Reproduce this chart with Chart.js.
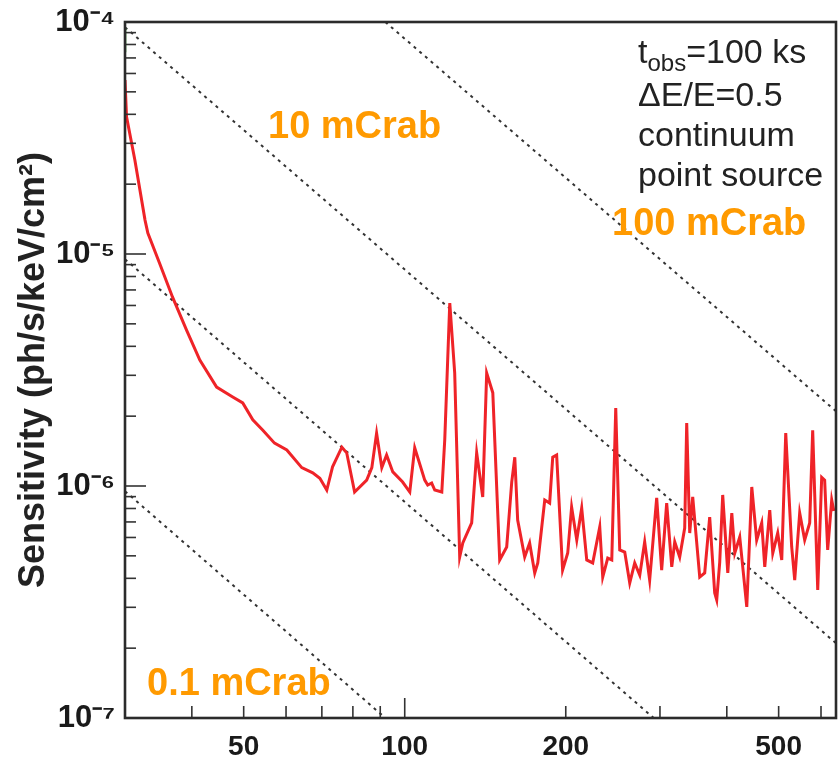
<!DOCTYPE html>
<html><head><meta charset="utf-8">
<script src="https://cdn.jsdelivr.net/npm/chart.js@4/dist/chart.umd.min.js"></script>
<style>html,body{margin:0;padding:0;background:#fff;}canvas{display:block;}</style>
</head><body>
<canvas id="c" width="839" height="758"></canvas>
<script>
// ---- data (energy in keV, sensitivity in ph/s/keV/cm2) ----
const energy = [30.0,30.2,31.3,32.7,33.1,34.8,36.8,39.1,41.4,44.5,47.7,49.8,52.0,54.3,57.1,60.2,64.2,67.3,69.4,71.5,
73.3,76.3,77.9,80.6,84.9,86.8,88.6,90.6,92.5,95.0,99.1,102.2,104.4,109.0,110.4,112.3,113.8,117.3,118.8,121.4,
124.0,126.7,128.4,133.4,136.3,139.9,142.3,146.1,150.5,155.1,158.5,160.6,162.6,167.6,171.2,175.0,177.3,182.7,186.6,189.1,
192.3,197.3,201.7,205.1,209.7,214.2,218.9,224.6,231.5,234.5,239.6,243.8,248.0,252.3,257.8,263.4,269.1,275.0,280.9,287.0,
295.8,302.2,308.8,315.6,319.7,326.6,333.7,336.6,341.0,345.4,356.0,363.7,371.6,379.7,383.0,388.0,393.0,401.7,408.7,414.0,
422.9,435.9,445.4,454.9,464.9,471.0,481.2,487.5,498.0,506.7,515.5,528.9,535.8,547.4,559.3,571.5,578.9,591.6,601.8,609.5,
617.5,628.3,634.0];
const sensitivity = [5.62e-5,3.90e-5,2.54e-5,1.40e-5,1.23e-5,9.15e-6,6.53e-6,4.70e-6,3.49e-6,2.67e-6,2.42e-6,2.28e-6,1.93e-6,1.74e-6,1.53e-6,1.43e-6,1.20e-6,1.14e-6,1.08e-6,9.61e-7,
1.21e-6,1.47e-6,1.39e-6,9.42e-7,1.06e-6,1.20e-6,1.69e-6,1.20e-6,1.36e-6,1.15e-6,1.04e-6,9.42e-7,1.46e-6,1.06e-6,1.01e-6,1.03e-6,9.61e-7,9.42e-7,1.58e-6,6.15e-6,
3.07e-6,4.94e-7,5.68e-7,6.93e-7,1.39e-6,8.97e-7,3.07e-6,2.52e-6,4.80e-7,5.46e-7,1.04e-6,1.33e-6,7.13e-7,4.94e-7,5.68e-7,4.22e-7,4.66e-7,8.70e-7,8.44e-7,1.33e-6,
1.36e-6,4.34e-7,5.14e-7,8.12e-7,5.85e-7,8.04e-7,4.80e-7,4.66e-7,6.66e-7,4.05e-7,4.89e-7,4.80e-7,2.17e-6,5.30e-7,5.19e-7,3.82e-7,4.66e-7,4.13e-7,5.74e-7,3.93e-7,
8.88e-7,4.34e-7,8.44e-7,4.48e-7,5.74e-7,4.94e-7,6.59e-7,1.87e-6,6.27e-7,8.97e-7,4.05e-7,4.22e-7,7.35e-7,3.46e-7,3.23e-7,4.70e-7,9.15e-7,4.22e-7,7.65e-7,5.14e-7,
6.03e-7,3.01e-7,9.90e-7,5.85e-7,6.93e-7,4.48e-7,7.88e-7,5.14e-7,6.27e-7,4.80e-7,1.69e-6,5.46e-7,3.93e-7,7.65e-7,5.85e-7,6.93e-7,1.74e-6,3.56e-7,1.09e-6,1.06e-6,
5.30e-7,8.70e-7,7.80e-7];
const greenEnergy = [30.0, 30.0];
const greenSensitivity = [9.4e-5, 7.4e-5];
const crabNames = ['0.1 mCrab','1 mCrab','10 mCrab','100 mCrab'];
const crabEnergy = [[30,92],[30,292],[30,640],[92,640]];
const crabSensitivity = [[9.5e-7,1.0e-7],[9.5e-6,1.0e-7],[9.5e-5,2.1e-7],[1.0e-4,2.1e-6]];
const xTickValues = [40,50,60,70,80,90,100,200,300,400,500,600];
const xTickLabels = [50,100,200,500];
const yDecades = [-7,-6,-5,-4];
const yTitle = 'Sensitivity (ph/s/keV/cm\u00B2)';
const infoLines = ['t|obs|=100 ks','\u0394E/E=0.5','continuum','point source'];

const SUP = {'-':'\u207B','0':'\u2070','1':'\u00B9','2':'\u00B2','3':'\u00B3','4':'\u2074','5':'\u2075','6':'\u2076','7':'\u2077','8':'\u2078','9':'\u2079'};
const sup = s => String(s).split('').map(c=>SUP[c]||c).join('');
const FONT = "'Liberation Sans', Arial, Helvetica, sans-serif";

const yTickValues = [];
yDecades.forEach((d,i)=>{
  if (i < yDecades.length-1) { for (let m=1;m<10;m++) yTickValues.push(m*Math.pow(10,d)); }
  else yTickValues.push(Math.pow(10,d));
});

const crabSets = crabNames.map((n,i)=>({
  label: n,
  data: crabEnergy[i].map((e,j)=>({x:e, y:crabSensitivity[i][j]})),
  borderColor: '#333', borderWidth: 2, borderDash: [3,4.5],
  pointRadius: 0, fill: false, order: 3
}));

const overlay = {
  id: 'overlay',
  afterDatasetsDraw(chart){
    const {ctx, chartArea:a, scales:{x, y}} = chart;
    ctx.save();
    ctx.strokeStyle = '#333'; ctx.lineWidth = 1.6;
    x.ticks.forEach(t=>{
      const px = x.getPixelForValue(t.value);
      const len = (t.value === 100) ? 20 : 12;
      ctx.beginPath(); ctx.moveTo(px, a.bottom); ctx.lineTo(px, a.bottom - len); ctx.stroke();
    });
    y.ticks.forEach(t=>{
      const py = y.getPixelForValue(t.value);
      const l = Math.log10(t.value);
      const len = Math.abs(l - Math.round(l)) < 1e-6 ? 21 : 11;
      ctx.beginPath(); ctx.moveTo(a.left, py); ctx.lineTo(a.left + len, py); ctx.stroke();
    });
    ctx.strokeStyle = '#2b2b2b'; ctx.lineWidth = 2.6;
    ctx.strokeRect(a.left, a.top, a.right - a.left, a.bottom - a.top);
    ctx.fillStyle = '#ff9a00';
    ctx.font = 'bold 38px ' + FONT;
    ctx.textBaseline = 'alphabetic'; ctx.textAlign = 'left';
    ctx.fillText(crabNames[2], 268, 138);
    ctx.fillText(crabNames[3], 612, 235);
    ctx.fillText(crabNames[0], 147, 695);
    ctx.fillStyle = '#222';
    const baselines = [63, 106, 146, 186];
    const left = 638;
    infoLines.forEach((ln,i)=>{
      if (ln.indexOf('|') >= 0) {
        const parts = ln.split('|');
        ctx.font = '34px ' + FONT;
        ctx.fillText(parts[0], left, baselines[i]);
        let w = ctx.measureText(parts[0]).width;
        ctx.font = '24px ' + FONT;
        ctx.fillText(parts[1], left + w, baselines[i] + 8);
        w += ctx.measureText(parts[1]).width;
        ctx.font = '34px ' + FONT;
        ctx.fillText(parts[2], left + w, baselines[i]);
      } else {
        ctx.font = '34px ' + FONT;
        ctx.fillText(ln, left, baselines[i]);
      }
    });
    ctx.restore();
  }
};

new Chart(document.getElementById('c'), {
  type: 'line',
  data: {
    datasets: [
      {
        label: 'Sensitivity',
        data: energy.map((e,i)=>({x:e, y:sensitivity[i]})),
        borderColor: '#ef2328', borderWidth: 3, pointRadius: 0, tension: 0, fill: false, order: 1
      },
      {
        label: 'green',
        data: greenEnergy.map((e,i)=>({x:e, y:greenSensitivity[i]})),
        borderColor: '#3cab3c', borderWidth: 2.6, pointRadius: 0, fill: false, order: 2
      },
      ...crabSets
    ]
  },
  options: {
    responsive: false,
    animation: false,
    devicePixelRatio: 1,
    layout: { padding: { top: 22, right: 3, left: 0, bottom: 0 } },
    plugins: { legend: { display: false }, tooltip: { enabled: false } },
    scales: {
      x: {
        type: 'logarithmic', min: 30, max: 640,
        grid: { display: false },
        border: { display: false },
        afterBuildTicks: s => { s.ticks = xTickValues.map(v=>({value:v})); },
        afterFit: s => { s.height = 40; },
        ticks: {
          autoSkip: false, maxRotation: 0, padding: 4, color: '#1a1a1a',
          font: { family: FONT, size: 28, weight: 'bold' },
          callback: v => xTickLabels.includes(v) ? String(v) : ''
        }
      },
      y: {
        type: 'logarithmic', min: 1e-7, max: 1e-4,
        grid: { display: false },
        border: { display: false },
        afterBuildTicks: s => { s.ticks = yTickValues.map(v=>({value:v})); },
        afterFit: s => { s.width = 125; },
        title: {
          display: true, text: yTitle, color: '#222',
          font: { family: FONT, size: 36, weight: 'bold' },
          padding: { top: 12, bottom: 0 }
        },
        ticks: {
          autoSkip: false, padding: 2, color: '#1a1a1a',
          font: { family: FONT, size: 31, weight: 'bold' },
          callback: v => {
            const l = Math.log10(v);
            return Math.abs(l - Math.round(l)) < 1e-6 ? '10' + sup(Math.round(l)) : '';
          }
        }
      }
    }
  },
  plugins: [overlay]
});
</script>
</body></html>
